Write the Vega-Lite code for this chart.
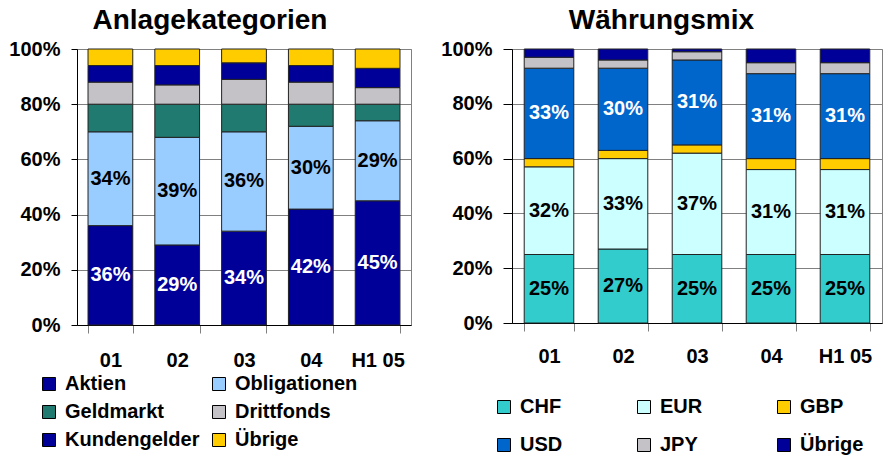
{
  "$schema": "https://vega.github.io/schema/vega-lite/v6.json",
  "padding": {"left": 8, "top": 6, "right": 0, "bottom": 0},
  "spacing": 28,
  "datasets": {
    "anlage": [
      {"periode": "01", "kategorie": "Aktien", "wert": 36},
      {"periode": "01", "kategorie": "Obligationen", "wert": 34},
      {"periode": "01", "kategorie": "Geldmarkt", "wert": 10},
      {"periode": "01", "kategorie": "Drittfonds", "wert": 8},
      {"periode": "01", "kategorie": "Kundengelder", "wert": 6},
      {"periode": "01", "kategorie": "Übrige", "wert": 6},
      {"periode": "02", "kategorie": "Aktien", "wert": 29},
      {"periode": "02", "kategorie": "Obligationen", "wert": 39},
      {"periode": "02", "kategorie": "Geldmarkt", "wert": 12},
      {"periode": "02", "kategorie": "Drittfonds", "wert": 7},
      {"periode": "02", "kategorie": "Kundengelder", "wert": 7},
      {"periode": "02", "kategorie": "Übrige", "wert": 6},
      {"periode": "03", "kategorie": "Aktien", "wert": 34},
      {"periode": "03", "kategorie": "Obligationen", "wert": 36},
      {"periode": "03", "kategorie": "Geldmarkt", "wert": 10},
      {"periode": "03", "kategorie": "Drittfonds", "wert": 9},
      {"periode": "03", "kategorie": "Kundengelder", "wert": 6},
      {"periode": "03", "kategorie": "Übrige", "wert": 5},
      {"periode": "04", "kategorie": "Aktien", "wert": 42},
      {"periode": "04", "kategorie": "Obligationen", "wert": 30},
      {"periode": "04", "kategorie": "Geldmarkt", "wert": 8},
      {"periode": "04", "kategorie": "Drittfonds", "wert": 8},
      {"periode": "04", "kategorie": "Kundengelder", "wert": 6},
      {"periode": "04", "kategorie": "Übrige", "wert": 6},
      {"periode": "H1 05", "kategorie": "Aktien", "wert": 45},
      {"periode": "H1 05", "kategorie": "Obligationen", "wert": 29},
      {"periode": "H1 05", "kategorie": "Geldmarkt", "wert": 6},
      {"periode": "H1 05", "kategorie": "Drittfonds", "wert": 6},
      {"periode": "H1 05", "kategorie": "Kundengelder", "wert": 7},
      {"periode": "H1 05", "kategorie": "Übrige", "wert": 7}
    ],
    "waehrung": [
      {"periode": "01", "waehrung": "CHF", "wert": 25},
      {"periode": "01", "waehrung": "EUR", "wert": 32},
      {"periode": "01", "waehrung": "GBP", "wert": 3},
      {"periode": "01", "waehrung": "USD", "wert": 33},
      {"periode": "01", "waehrung": "JPY", "wert": 4},
      {"periode": "01", "waehrung": "Übrige", "wert": 3},
      {"periode": "02", "waehrung": "CHF", "wert": 27},
      {"periode": "02", "waehrung": "EUR", "wert": 33},
      {"periode": "02", "waehrung": "GBP", "wert": 3},
      {"periode": "02", "waehrung": "USD", "wert": 30},
      {"periode": "02", "waehrung": "JPY", "wert": 3},
      {"periode": "02", "waehrung": "Übrige", "wert": 4},
      {"periode": "03", "waehrung": "CHF", "wert": 25},
      {"periode": "03", "waehrung": "EUR", "wert": 37},
      {"periode": "03", "waehrung": "GBP", "wert": 3},
      {"periode": "03", "waehrung": "USD", "wert": 31},
      {"periode": "03", "waehrung": "JPY", "wert": 3},
      {"periode": "03", "waehrung": "Übrige", "wert": 1},
      {"periode": "04", "waehrung": "CHF", "wert": 25},
      {"periode": "04", "waehrung": "EUR", "wert": 31},
      {"periode": "04", "waehrung": "GBP", "wert": 4},
      {"periode": "04", "waehrung": "USD", "wert": 31},
      {"periode": "04", "waehrung": "JPY", "wert": 4},
      {"periode": "04", "waehrung": "Übrige", "wert": 5},
      {"periode": "H1 05", "waehrung": "CHF", "wert": 25},
      {"periode": "H1 05", "waehrung": "EUR", "wert": 31},
      {"periode": "H1 05", "waehrung": "GBP", "wert": 4},
      {"periode": "H1 05", "waehrung": "USD", "wert": 31},
      {"periode": "H1 05", "waehrung": "JPY", "wert": 4},
      {"periode": "H1 05", "waehrung": "Übrige", "wert": 5}
    ]
  },
  "hconcat": [
    {
      "width": 334,
      "height": 276,
      "title": {"text": "Anlagekategorien", "frame": "bounds", "anchor": "middle", "fontSize": 28, "fontWeight": "bold", "color": "black", "offset": 4},
      "data": {"name": "anlage"},
      "transform": [
        {"calculate": "indexof(['Aktien','Obligationen','Geldmarkt','Drittfonds','Kundengelder','Übrige'], datum.kategorie)", "as": "idx"},
        {"stack": "wert", "groupby": ["periode"], "sort": [{"field": "idx", "order": "ascending"}], "as": ["y0", "y1"]},
        {"calculate": "(datum.y0 + datum.y1) / 2", "as": "mid"},
        {"calculate": "datum.wert + '%'", "as": "label"}
      ],
      "encoding": {
        "x": {
          "field": "periode", "type": "nominal", "sort": ["01", "02", "03", "04", "H1 05"],
          "scale": {"paddingInner": 0.33, "paddingOuter": 0.165},
          "axis": {"title": null, "labelAngle": 0, "tickBand": "extent", "tickSize": 8, "tickColor": "#808080", "domainColor": "black", "labelPadding": 17, "grid": false}
        }
      },
      "layer": [
        {
          "mark": {"type": "bar", "stroke": "#222222", "strokeWidth": 1},
          "encoding": {
            "y": {"field": "y0", "type": "quantitative", "scale": {"domain": [0, 100], "nice": false},
              "axis": {"title": null, "values": [0, 20, 40, 60, 80, 100], "labelExpr": "datum.value + '%'", "tickSize": 6, "labelPadding": 11, "grid": true, "gridColor": "#808080", "domainColor": "black", "tickColor": "black"}},
            "y2": {"field": "y1"},
            "color": {
              "field": "kategorie", "type": "nominal",
              "scale": {"domain": ["Aktien", "Obligationen", "Geldmarkt", "Drittfonds", "Kundengelder", "Übrige"],
                        "range": ["#000099", "#99CCFF", "#217A6F", "#C4C2C6", "#000099", "#FFCC00"]},
              "legend": {"orient": "none", "legendX": -38, "legendY": 325, "columns": 2, "columnPadding": 9, "rowPadding": 8, "title": null,
                         "values": ["Aktien", "Geldmarkt", "Kundengelder", "Obligationen", "Drittfonds", "Übrige"]}
            }
          }
        },
        {
          "transform": [{"filter": "datum.kategorie === 'Aktien'"}],
          "mark": {"type": "text", "fontSize": 20, "fontWeight": "bold", "fill": "white"},
          "encoding": {"y": {"field": "mid", "type": "quantitative"}, "text": {"field": "label"}}
        },
        {
          "transform": [{"filter": "datum.kategorie === 'Obligationen'"}],
          "mark": {"type": "text", "fontSize": 20, "fontWeight": "bold", "fill": "black"},
          "encoding": {"y": {"field": "mid", "type": "quantitative"}, "text": {"field": "label"}}
        }
      ]
    },
    {
      "width": 370,
      "height": 274,
      "title": {"text": "Währungsmix", "frame": "bounds", "anchor": "middle", "fontSize": 28, "fontWeight": "bold", "color": "black", "offset": 4},
      "data": {"name": "waehrung"},
      "transform": [
        {"calculate": "indexof(['CHF','EUR','GBP','USD','JPY','Übrige'], datum.waehrung)", "as": "idx"},
        {"stack": "wert", "groupby": ["periode"], "sort": [{"field": "idx", "order": "ascending"}], "as": ["y0", "y1"]},
        {"calculate": "(datum.y0 + datum.y1) / 2", "as": "mid"},
        {"calculate": "datum.wert + '%'", "as": "label"}
      ],
      "encoding": {
        "x": {
          "field": "periode", "type": "nominal", "sort": ["01", "02", "03", "04", "H1 05"],
          "scale": {"paddingInner": 0.33, "paddingOuter": 0.165},
          "axis": {"title": null, "labelAngle": 0, "tickBand": "extent", "tickSize": 8, "tickColor": "#808080", "domainColor": "black", "labelPadding": 15, "grid": false}
        }
      },
      "layer": [
        {
          "mark": {"type": "bar", "stroke": "#222222", "strokeWidth": 1},
          "encoding": {
            "y": {"field": "y0", "type": "quantitative", "scale": {"domain": [0, 100], "nice": false},
              "axis": {"title": null, "values": [0, 20, 40, 60, 80, 100], "labelExpr": "datum.value + '%'", "tickSize": 9, "labelPadding": 11, "grid": true, "gridColor": "#808080", "domainColor": "black", "tickColor": "black"}},
            "y2": {"field": "y1"},
            "color": {
              "field": "waehrung", "type": "nominal",
              "scale": {"domain": ["CHF", "EUR", "GBP", "USD", "JPY", "Übrige"],
                        "range": ["#33CCCC", "#CCFFFF", "#FFCC00", "#0066CC", "#C4C2C6", "#000099"]},
              "legend": {"orient": "none", "legendX": -18, "legendY": 348, "columns": 3, "columnPadding": 71, "rowPadding": 18, "title": null,
                         "values": ["CHF", "USD", "EUR", "JPY", "GBP", "Übrige"]}
            }
          }
        },
        {
          "transform": [{"filter": "datum.waehrung === 'USD'"}],
          "mark": {"type": "text", "fontSize": 20, "fontWeight": "bold", "fill": "white"},
          "encoding": {"y": {"field": "mid", "type": "quantitative"}, "text": {"field": "label"}}
        },
        {
          "transform": [{"filter": "datum.waehrung === 'CHF' || datum.waehrung === 'EUR'"}],
          "mark": {"type": "text", "fontSize": 20, "fontWeight": "bold", "fill": "black"},
          "encoding": {"y": {"field": "mid", "type": "quantitative"}, "text": {"field": "label"}}
        }
      ]
    }
  ],
  "resolve": {"scale": {"color": "independent"}},
  "config": {
    "font": "Liberation Sans",
    "view": {"stroke": "#808080"},
    "axis": {"labelFontSize": 20, "labelFontWeight": "bold", "labelColor": "black", "labelFont": "Liberation Sans"},
    "legend": {"symbolType": "square", "symbolSize": 169, "symbolStrokeColor": "black", "symbolStrokeWidth": 1, "labelFontSize": 20, "labelFontWeight": "bold", "labelColor": "black", "labelOffset": 6, "labelLimit": 300},
    "title": {"font": "Liberation Sans"}
  }
}
